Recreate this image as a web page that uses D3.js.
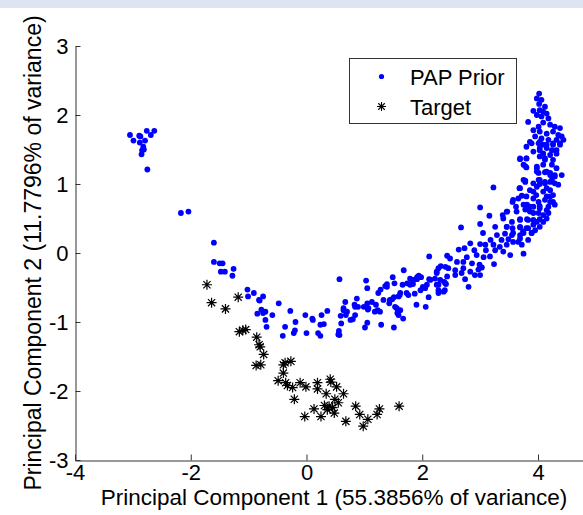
<!doctype html>
<html>
  <head>
    <meta charset="utf-8" />
    <title>PCA scatter</title>
    <style>
      body { margin: 0; background: #fff; }
      svg { display: block; font-family: Arial, "Liberation Sans", sans-serif; }
    </style>
  </head>
  <body>
    <svg id="chart" width="583" height="515"></svg>

    <script src="https://d3js.org/d3.v7.min.js"></script>
    <script>
      // PC1 / PC2 scores
      const priorPoints = [
        [-3.05,1.71],[-2.99,1.63],[-2.89,1.70],[-2.87,1.69],[-2.88,1.60],[-2.79,1.63],[-2.76,1.77],
        [-2.69,1.71],[-2.63,1.77],[-2.82,1.54],[-2.81,1.50],[-2.84,1.49],[-2.85,1.43],[-2.75,1.21],
        [-2.17,0.58],[-2.04,0.60],[-1.60,0.15],
        [-1.60,-0.13],[-1.50,-0.15],[-1.45,-0.15],[-1.48,-0.27],[-1.41,-0.27],[-1.26,-0.23],[-1.28,-0.33],
        [-1.02,-0.53],[-0.91,-0.58],[-1.01,-0.63],[-0.82,-0.68],[-0.85,-0.88],[-0.75,-0.63],[-0.81,-0.69],
        [-0.48,-0.73],[-0.78,-0.82],[-0.75,-0.87],[-0.71,-0.85],[-0.59,-0.90],[-0.71,-0.97],[-0.69,-1.07],
        [-0.28,-0.84],[-0.37,-1.07],[-0.19,-1.00],[-0.20,-1.12],[-0.41,-1.20],[-0.22,-1.16],[-0.02,-0.90],
        [0.00,-1.16],[0.10,-0.95],[0.11,-0.97],[0.26,-0.90],[0.36,-0.84],[0.24,-1.04],[0.30,-1.03],
        [0.20,-1.16],[0.24,-1.20],
        [0.57,-0.38],[0.59,-0.91],[0.60,-1.02],[0.56,-1.13],[0.55,-1.18],[0.67,-0.71],[0.64,-0.83],
        [0.70,-0.85],[0.68,-0.90],[0.76,-0.97],[0.80,-0.96],[0.84,-0.90],[0.87,-0.66],[0.83,-0.75],[0.89,-0.78],
        [0.64,-0.80],[0.57,-1.19],[0.84,-0.78],[1.07,-0.80],[1.18,-0.85],[1.27,-0.85],[1.39,-0.45],
        [1.43,-0.73],[1.56,-0.80],[1.59,-0.90],[1.62,-0.58],[1.79,-0.46],[1.91,-0.38],[1.73,-0.58],
        [2.12,-0.38],[2.06,-0.78],[2.28,-0.46],[2.39,-0.54],[2.28,-0.58],
        [1.03,-0.40],[1.05,-0.51],[1.05,-0.73],[0.99,-0.78],[1.06,-0.82],[1.13,-0.71],[1.20,-0.75],
        [1.23,-0.83],[1.05,-1.01],[1.01,-1.08],[1.24,-0.58],[1.28,-0.53],[1.36,-0.48],[1.39,-0.49],
        [1.33,-0.68],[1.44,-0.68],[1.48,-0.67],[1.29,-1.04],[1.51,-1.08],
        [1.49,-0.35],[1.52,-0.44],[1.61,-0.61],[1.53,-0.78],[1.57,-0.87],[1.62,-0.83],[1.67,-0.95],
        [1.66,-0.46],[1.74,-0.44],[1.68,-0.25],[1.79,-0.37],[1.84,-0.45],[1.91,-0.35],[1.94,-0.33],
        [1.76,-0.61],[1.87,-0.59],[1.90,-0.75],[1.97,-0.54],
        [1.82,-0.44],[1.85,-0.39],[1.98,-0.35],[2.01,-0.49],[2.05,-0.51],[2.08,-0.46],[2.14,-0.39],
        [2.12,-0.05],[2.25,-0.29],[2.28,-0.22],[2.32,-0.19],[2.40,-0.20],[2.43,-0.04],[2.38,-0.42],
        [2.41,-0.45],[2.28,-0.54],[2.37,-0.56],[1.59,-0.63],[2.11,-0.64],[1.51,-0.64],
        [3.23,0.95],[3.68,0.94],[3.78,1.05],[3.92,1.01],[4.03,1.00],[4.12,1.03],[4.29,1.01],[4.35,0.99],
        [4.15,0.94],[3.86,0.91],[3.97,0.84],[3.72,0.83],[3.66,0.79],[4.21,0.82],[4.26,0.74],[4.12,0.77],
        [3.56,0.74],[3.62,0.67],[3.81,0.70],[3.92,0.67],[4.03,0.68],[4.18,0.67],[3.00,0.66],[3.47,0.60],
        [3.39,0.55],[3.16,0.54],[3.78,0.63],[3.86,0.60],[4.01,0.58],[4.18,0.58],[3.69,0.49],[3.81,0.49],
        [3.92,0.48],[4.03,0.49],[4.09,0.45],[3.00,0.42],[2.67,0.37],[3.26,0.38],[3.46,0.38],[3.56,0.36],
        [3.69,0.38],[3.74,0.31],[3.83,0.36],[3.95,0.33],[3.05,0.29],[3.29,0.26],[3.43,0.28],[3.55,0.26],
        [3.69,0.26],[3.89,0.29],[3.18,0.19],[3.37,0.19],[3.49,0.20],[3.57,0.16],[3.66,0.16],[3.83,0.19],
        [2.83,0.14],[3.00,0.13],[3.09,0.12],[3.23,0.12],[3.34,0.09],[3.46,0.12],[3.72,0.12],[2.63,0.05],
        [2.73,0.07],[2.90,0.04],[3.10,0.04],[3.26,0.04],[3.40,0.02],[3.52,-0.03],[3.75,-0.01],[2.48,-0.08],
        [2.77,-0.06],[2.94,-0.03],[3.06,-0.06],[3.17,-0.05],[2.60,-0.13],[2.71,-0.13],[2.86,-0.15],
        [2.99,-0.17],[3.03,-0.21],[3.24,-0.16],[2.25,-0.27],[2.45,-0.22],[2.57,-0.25],[2.71,-0.22],
        [2.83,-0.27],[2.97,-0.24],[2.31,-0.39],[2.22,-0.37],[2.43,-0.34],[2.57,-0.32],[2.68,-0.29],
        [2.91,-0.32],[3.00,-0.32],[2.74,-0.38],[2.40,-0.44],[2.80,-0.49],[2.25,-0.46],
        [4.02,2.31],[3.98,2.24],[4.06,2.22],[4.02,2.16],[4.12,2.12],[3.92,2.06],[4.03,2.07],[4.09,2.05],
        [4.15,2.02],[3.98,2.00],[4.06,1.98],[4.18,1.95],[3.83,1.90],[4.09,1.89],[4.21,1.86],[4.29,1.83],
        [4.38,1.81],[4.01,1.83],[3.92,1.78],[4.03,1.76],[4.15,1.73],[4.26,1.76],[4.35,1.71],[4.41,1.69],
        [3.95,1.69],[4.06,1.66],[4.32,1.64],[4.18,1.64],[3.86,1.61],[4.01,1.59],[4.09,1.57],[4.26,1.57],
        [4.38,1.57],[3.80,1.54],[4.03,1.52],[4.15,1.52],[4.32,1.49],[3.92,1.47],[4.09,1.44],[4.21,1.42],
        [4.03,1.40],[3.69,1.36],[3.80,1.37],[4.12,1.35],[3.75,1.28],[3.80,1.24],[3.98,1.25],[4.09,1.28],
        [4.24,1.28],[4.32,1.23],[3.98,1.18],[4.12,1.17],[4.21,1.13],[4.29,1.11],[4.41,1.13],[3.75,1.06],
        [4.01,1.06],[4.24,1.06],[4.44,1.64],
        [3.89,1.59],[4.03,1.61],[4.15,1.57],[4.26,1.59],[4.38,1.59],[4.03,1.49],[4.09,1.44],[4.24,1.49],
        [4.32,1.44],[3.69,1.37],[3.80,1.37],[4.12,1.37],[4.26,1.35],[3.78,1.26],[3.98,1.23],[4.15,1.18],
        [4.21,1.16],[4.29,1.13],[4.01,1.16],[3.78,1.03],[4.03,1.06],[4.12,1.01],[4.21,1.03],[3.98,0.96],
        [3.69,0.94],[3.92,0.89],[4.09,0.89],[4.21,0.91],[4.26,0.84],[4.15,0.82],[3.57,0.77],[3.80,0.82],
        [3.92,0.79],[4.01,0.74],[4.21,0.74],[4.29,0.70],[3.75,0.70],[3.86,0.67],[4.03,0.65],[4.15,0.62],
        [3.46,0.60],[3.63,0.60],[3.92,0.58],[4.09,0.55],[3.40,0.50],[3.55,0.45],[3.69,0.48],[3.83,0.48],
        [3.98,0.45],[4.15,0.50],[3.46,0.38],[3.69,0.37],[3.80,0.36],[3.92,0.41],[4.03,0.38],[3.57,0.29],
        [3.75,0.29],[3.89,0.29],[3.69,0.21]
      ];

      const targetPoints = [
        [-1.72,-0.46],[-1.64,-0.72],[-1.40,-0.81],[-1.18,-0.64],[-1.16,-1.14],[-1.10,-1.12],[-1.05,-1.11],
        [-0.86,-1.22],[-0.82,-1.33],[-0.80,-1.36],[-0.74,-1.47],[-0.87,-1.63],[-0.79,-1.62],[-0.40,-1.62],
        [-0.37,-1.59],[-0.27,-1.57],[-0.40,-1.74],[-0.49,-1.85],[-0.36,-1.88],[-0.33,-1.92],[-0.24,-1.95],
        [-0.11,-1.88],[-0.01,-1.94],[-0.21,-2.12],[0.19,-1.88],[0.19,-1.97],[0.41,-1.83],[0.42,-1.87],
        [0.52,-1.94],[0.34,-2.04],[0.64,-2.04],[0.49,-2.12],[0.55,-2.17],[0.31,-2.21],[0.39,-2.22],
        [0.45,-2.24],[0.36,-2.27],[0.48,-2.32],[0.13,-2.26],[-0.03,-2.37],[0.25,-2.37],[0.68,-2.44],
        [0.85,-2.22],[0.92,-2.34],[1.06,-2.41],[0.98,-2.51],[1.22,-2.34],[1.26,-2.26],[1.60,-2.22]
      ];

      const xTicks = [-4, -2, 0, 2, 4];
      const yTicks = [-3, -2, -1, 0, 1, 2, 3];
      const seriesNames = ['PAP Prior', 'Target'];
      const xLabel = 'Principal Component 1 (55.3856% of variance)';
      const yLabel = 'Principal Component 2 (11.7796% of variance)';

      const svg = d3.select('#chart');
      const width = +svg.attr('width');

      const x = d3.scaleLinear().domain([-4, 5]).range([75, 75 + 9 * 57.875]);
      const y = d3.scaleLinear().domain([-3, 3]).range([460, 46]);

      // window strip at the top
      svg.append('rect')
        .attr('x', 0).attr('y', 0)
        .attr('width', width).attr('height', 8)
        .attr('fill', '#dfe5f0');

      // axes (ticks point inward, no box)
      const xAxis = svg.append('g')
        .attr('transform', 'translate(0,460.5)')
        .call(d3.axisBottom(x).tickValues(xTicks).tickFormat(d3.format('d'))
          .tickSizeInner(-6).tickSizeOuter(0).tickPadding(4));
      const yAxis = svg.append('g')
        .attr('transform', 'translate(75.5,0)')
        .call(d3.axisLeft(y).tickValues(yTicks).tickFormat(d3.format('d'))
          .tickSizeInner(-5).tickSizeOuter(0).tickPadding(7));

      [xAxis, yAxis].forEach((g) => {
        g.select('.domain').attr('stroke', '#333');
        g.selectAll('.tick line').attr('stroke', '#333');
        g.selectAll('.tick text')
          .attr('fill', '#000')
          .style('font-size', '22px')
          .style('font-family', 'Arial, "Liberation Sans", sans-serif');
      });
      // MATLAB uses a hyphen style minus
      svg.selectAll('.tick text').text((d) => String(d));

      // axis titles
      svg.append('text')
        .attr('x', 334).attr('y', 505)
        .attr('text-anchor', 'middle')
        .style('font-size', '22.5px')
        .text(xLabel);
      svg.append('text')
        .attr('transform', 'translate(41,253) rotate(-90)')
        .attr('text-anchor', 'middle')
        .style('font-size', '23px')
        .text(yLabel);

      // star marker (plus + cross) like MATLAB '*'
      const star = (r) => {
        const d = r * 0.72;
        return `M${-r},0H${r}M0,${-r}V${r}M${-d},${-d}L${d},${d}M${-d},${d}L${d},${-d}`;
      };

      svg.append('g')
        .selectAll('circle')
        .data(priorPoints)
        .join('circle')
        .attr('cx', (d) => x(d[0]))
        .attr('cy', (d) => y(d[1]))
        .attr('r', 2.9)
        .attr('fill', '#0000ff');

      svg.append('g')
        .selectAll('path')
        .data(targetPoints)
        .join('path')
        .attr('transform', (d) => `translate(${x(d[0])},${y(d[1])})`)
        .attr('d', star(5))
        .attr('fill', 'none')
        .attr('stroke', '#000')
        .attr('stroke-width', 1.2);

      // legend
      const legend = svg.append('g');
      legend.append('rect')
        .attr('x', 349.5).attr('y', 58.5)
        .attr('width', 167).attr('height', 65)
        .attr('fill', '#fff')
        .attr('stroke', '#333');
      legend.append('circle')
        .attr('cx', 381.5).attr('cy', 76.5)
        .attr('r', 2.6)
        .attr('fill', '#0000ff');
      legend.append('path')
        .attr('transform', 'translate(381.5,106.5)')
        .attr('d', star(4.5))
        .attr('fill', 'none')
        .attr('stroke', '#000')
        .attr('stroke-width', 1.1);
      legend.selectAll('text.lab')
        .data(seriesNames)
        .join('text')
        .attr('class', 'lab')
        .attr('x', 410)
        .attr('y', (d, i) => 84.5 + i * 30)
        .style('font-size', '22px')
        .text((d) => d);
    </script>
  </body>
</html>
